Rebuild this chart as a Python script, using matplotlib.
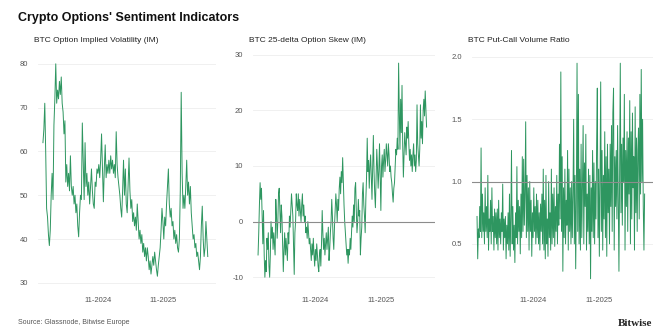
import matplotlib
matplotlib.use('Agg')
import matplotlib.pyplot as plt
import matplotlib.dates as mdates
import pandas as pd

plt.rcParams['font.family'] = ['Liberation Sans Narrow', 'Liberation Sans', 'DejaVu Sans']

# values, evenly spaced in time
iv = [62, 65, 71, 60, 47, 45, 41, 38.5, 42, 50, 55, 49, 66, 72, 80, 71, 74, 72, 76, 73,
      77, 71, 69, 64, 67, 53, 57, 52, 55, 51, 59, 52, 50, 52, 48, 50, 46, 48, 43, 40.5,
      46, 50, 49, 66.5, 58, 49, 62, 52, 55, 50, 53, 48, 52, 56, 51, 48, 47, 53, 52, 56,
      55, 57, 54, 58, 64, 56, 48.5, 56, 61.5, 54, 57, 55, 58, 55, 59, 56, 58, 55, 57, 54,
      64.5, 57, 54, 52, 50, 47, 45, 51, 58, 50, 56, 48, 46, 52, 58.5, 51, 47, 49, 44, 46,
      43, 45, 42, 48, 44, 40, 42, 39, 41, 37, 39, 36, 38, 35, 38, 36, 33, 35, 32, 34,
      36, 34, 37, 35, 33, 31.5, 34, 36, 38, 42, 47, 44, 40, 45, 43, 48, 52, 56, 48, 45,
      47, 43, 44, 40, 42, 39, 41, 38, 37, 40, 51, 73.5, 55, 47, 50, 47, 52, 58, 50, 53,
      48, 52, 46, 43, 40, 41, 38, 39, 36, 37, 35, 33, 36, 43, 47.5, 40, 36, 38, 44, 40,
      36]

skew = [-6, -2, 3, 7, 4, 6, 1, -4, 2, -6, -10, -7, -9, -3, -5, -2, -8, -10, -6, 0,
        -3, -1, -5, -2, -4, -6, 4, 1, -3, 0, 5, 6, 2, -2, 3, 1, -4, -9, -5, -2,
        -6, -3, -5, -7, -2, -4, 1, -1, 2, 5, 3, 1, -4, -9.5, -2, 0, 5, 3, 2, 5,
        1, 4, 2, 0, 3, 5, 1, 3, 0, 1, -2, -1, -3, 0, -2, -4, -3, -5, -7, -4,
        -6, -3, -6, -8, -5, -7, -4, -6, -8, -9, -6, -5, -8, -4, 2, -2, -5, -3, -6, -4,
        -2, -5, -3, -1, -7, -5, -2, 0, 4, 1, -3, -5, -1, 2, 5, 3, 0, 4, 2, 6,
        8, 5, 9, 7, 11.5, 7, 3, 0, -2, -4, -6, -5, -7.5, -5, -6, -3, -5, -2, 1, -1,
        3, 0, 6, 7, 2, -2, 0, 4, 1, 2, -6, -3, -1, 5, 7, 3, 1, -2, 4, 8,
        15, 9, 11, 6, 10, 12, 8, 4, 10, 15.5, 9, 5, 2.5, 8, 13, 10, 6, 9, 14, 8,
        2, 10, 12, 8, 11, 13, 9, 11, 14, 12, 10, 14, 12, 9, 10, 8, 7, 5, 3.5, 6,
        7, 10, 13, 12, 15, 13, 28.5, 20, 13, 22, 16, 24.5, 14, 8, 12, 16, 14, 12, 17, 15,
        18, 14, 11, 13, 10, 12, 9, 12, 14, 10, 12, 9, 11, 21, 14, 12, 10, 13, 21, 15,
        18, 14, 20, 22, 19, 23.5, 20, 17]

pcr = [0.72, 0.38, 0.62, 0.55, 0.8, 0.6, 1.27, 0.55, 0.9, 0.6, 0.75, 0.5, 0.95, 0.6, 0.8, 0.55,
       1.05, 0.45, 0.7, 0.6, 0.85, 0.5, 0.95, 0.6, 0.72, 0.45, 0.78, 0.55, 0.75, 0.5, 0.78, 0.45,
       0.85, 0.55, 0.7, 0.5, 0.75, 0.6, 0.98, 0.45, 0.7, 0.55, 0.72, 0.38, 0.65, 0.5, 0.75, 0.45,
       0.9, 0.4, 0.7, 1.25, 0.5, 0.8, 0.45, 0.65, 0.35, 0.75, 0.55, 1.12, 0.5, 0.85, 0.6, 0.8,
       0.42, 0.9, 0.55, 1.2, 0.6, 1.18, 0.65, 0.9, 1.48, 0.55, 1.05, 0.6, 0.95, 0.45, 1.0, 0.6,
       0.85, 0.4, 0.75, 0.55, 0.95, 0.6, 0.8, 0.5, 0.9, 0.55, 0.85, 0.5, 0.75, 0.45, 0.82, 0.6,
       0.9, 0.5, 1.1, 0.45, 0.85, 0.38, 1.05, 0.5, 0.7, 0.4, 1.0, 0.55, 0.75, 0.45, 1.1, 0.5,
       0.9, 0.55, 0.95, 0.48, 0.8, 0.6, 1.05, 0.5, 0.9, 0.65, 1.3, 0.7, 1.88, 0.6, 1.2, 0.28,
       0.95, 0.55, 1.1, 0.5, 0.85, 0.65, 1.25, 0.45, 1.1, 0.6, 0.95, 0.5, 1.0, 0.55, 0.9, 1.5,
       0.5, 1.05, 0.3, 0.85, 1.95, 0.6, 1.7, 0.5, 1.1, 0.45, 1.3, 0.55, 0.95, 1.45, 0.5, 1.15,
       0.8, 1.38, 0.45, 0.9, 0.6, 1.1, 0.5, 1.05, 0.22, 0.95, 0.6, 1.25, 0.55, 1.15, 0.5, 1.0,
       0.7, 1.3, 1.75, 0.55, 1.1, 0.4, 1.0, 1.8, 0.6, 1.25, 0.45, 1.05, 0.7, 1.4, 0.55, 1.2,
       0.4, 1.3, 0.75, 1.1, 0.5, 1.3, 0.8, 1.45, 0.6, 1.55, 1.75, 0.45, 1.2, 0.8, 1.25, 0.7,
       1.45, 0.9, 0.28, 1.05, 1.95, 0.75, 1.3, 0.65, 1.35, 1.0, 1.7, 0.45, 1.25, 0.8, 1.4, 0.6,
       1.35, 0.9, 1.65, 0.5, 1.4, 0.7, 1.55, 0.95, 1.2, 0.45, 1.6, 0.75, 1.35, 0.6, 1.25, 1.43,
       0.7, 1.7, 0.9, 1.9, 1.0, 1.5, 0.8, 0.45, 0.9]

panels = [
    ('BTC Option Implied Volatility (IM)', iv, [30, 40, 50, 60, 70, 80], (29.5, 82.7), None, '{:.0f}'),
    ('BTC 25-delta Option Skew (IM)', skew, [-10, 0, 10, 20, 30], (-11.4, 30.5), 0, '{:.0f}'),
    ('BTC Put-Call Volume Ratio', pcr, [0.5, 1.0, 1.5, 2.0], (0.17, 2.04), 1.0, '{:.1f}'),
]
lefts = [38, 253, 472]
widths = [178, 182, 181]
start, end = pd.Timestamp('2023-12-26'), pd.Timestamp('2026-07-09')

fig = plt.figure(figsize=(6.71, 3.36), dpi=100)
fig.text(18 / 671, 1 - 18 / 336, "Crypto Options' Sentiment Indicators", fontsize=9,
         fontweight='bold', color='#111111', va='center')

for (title, vals, yt, ylim, ref, fmt), l, w in zip(panels, lefts, widths):
    ax = fig.add_axes([l / 671, 51 / 336, w / 671, 233 / 336])
    dates = pd.date_range(start, end, periods=len(vals))
    ax.plot(dates, vals, color='#2e9660', lw=0.7)
    span = end - start
    ax.set_xlim(start - span * 0.03, end + span * 0.05)
    ax.set_ylim(*ylim)
    ax.set_yticks(yt)
    ax.set_yticklabels([fmt.format(v) for v in yt])
    ax.xaxis.set_major_locator(mdates.MonthLocator(bymonth=11))
    ax.xaxis.set_major_formatter(mdates.DateFormatter('%m-%Y'))
    ax.grid(axis='y', color='#eeeeee', lw=0.6)
    ax.set_axisbelow(True)
    if ref is not None:
        ax.axhline(ref, color='#8c8c8c', lw=0.8)
    for s in ax.spines.values():
        s.set_visible(False)
    ax.tick_params(length=0, labelsize=5.5, labelcolor='#555555')
    ax.tick_params(axis='x', pad=9)
    ax.tick_params(axis='y', pad=7)
    fig.text((l - 4) / 671, 1 - 41 / 336, title, fontsize=6, color='#222222', va='center')

fig.text(18 / 671, 1 - 323 / 336, 'Source: Glassnode, Bitwise Europe', fontsize=5,
         color='#555555', va='center')
fig.text(652 / 671, 1 - 323 / 336, 'Bitwise', fontsize=8, fontweight='bold',
         family=['Liberation Serif', 'DejaVu Serif'], color='#222222', va='center', ha='right')

fig.savefig('out.png', dpi=100, facecolor='white')
